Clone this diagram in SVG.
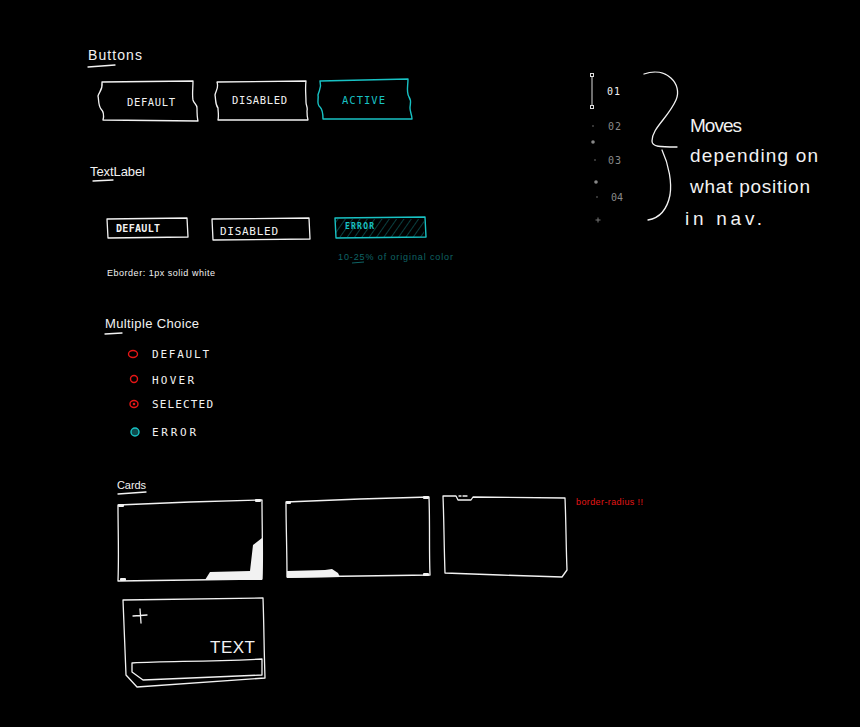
<svg xmlns="http://www.w3.org/2000/svg" width="860" height="727" viewBox="0 0 860 727">
<defs>
<style>
.ln{fill:none;stroke:#f2f2f2;stroke-width:1.3;stroke-linejoin:round;stroke-linecap:round}
.cy{fill:none;stroke:#18c2c4;stroke-width:1.4;stroke-linejoin:round;stroke-linecap:round}
.hd{font-family:"Liberation Sans",Arial,sans-serif;fill:#f2f2f2}
.bl{font-family:"DejaVu Sans Mono","Liberation Mono",monospace;fill:#f2f2f2}
.red{fill:none;stroke:#e51616;stroke-width:1.4}
.wf{fill:#f2f2f2;stroke:none}
</style>
<pattern id="hatch" width="6" height="6" patternUnits="userSpaceOnUse" patternTransform="rotate(35)">
<line x1="0" y1="0" x2="0" y2="6" stroke="#0e5f61" stroke-width="1.3"/>
</pattern>
</defs>
<rect width="860" height="727" fill="#000"/>

<g id="buttons">
<text class="hd" x="88" y="60" font-size="14" textLength="54">Buttons</text>
<path class="ln" d="M88,67 L115,65"/>
<g id="btn-default">
<path class="ln" d="M102,82 L193,81 C193,88 192,95 193,100 C194,104 197,104 197,108 C197,113 197,117 198,121 L103,120 C104,116 104,112 101,109 C98,105 99,100 98,96 C99,92 103,90 102,82 Z"/>
<text class="bl" x="127" y="106" font-size="10.5" textLength="48">DEFAULT</text>
</g>
<g id="btn-disabled">
<path class="ln" d="M217,82 L306,81 C305,88 306,95 306,102 C306,106 308,107 307,111 C307,114 307,117 308,120 L218,120 C219,115 218,112 218,108 C215,104 216,100 215,95 C216,90 219,88 217,82 Z"/>
<text class="bl" x="232" y="104" font-size="10.5" textLength="55">DISABLED</text>
</g>
<g id="btn-active">
<path class="cy" d="M320,81 L408,79 C408,86 406,92 409,97 C412,101 410,104 410,108 C410,112 412,115 412,119 L323,119 C323,115 323,110 320,107 C316,104 319,99 318,95 C319,90 322,88 320,81 Z"/>
<text class="bl" x="342" y="104" font-size="10.5" style="fill:#18c2c4" textLength="43">ACTIVE</text>
</g>
</g>

<g id="textlabel">
<text class="hd" x="90" y="176" font-size="13" textLength="55">TextLabel</text>
<path class="ln" d="M93,181 L113,180"/>
<g id="tl-default">
<path class="ln" d="M107,219 L187,218 L188,237 L108,238 Z"/>
<text class="bl" x="116" y="232" font-size="10" font-weight="bold" textLength="44">DEFAULT</text>
</g>
<g id="tl-disabled">
<path class="ln" d="M212,219 L309,218 L310,239 L213,240 Z"/>
<text class="bl" x="220" y="235" font-size="11" textLength="58">DISABLED</text>
</g>
<g id="tl-error">
<rect x="336" y="219" width="88" height="18" fill="url(#hatch)"/>
<path class="cy" d="M335,218 L425,217 L426,237 L336,238 Z"/>
<text class="bl" x="345" y="229" font-size="8" font-weight="bold" style="fill:#18c2c4" textLength="29">ERROR</text>
</g>
<text class="hd" x="338" y="260" font-size="9" style="fill:#0f6466" textLength="115">10-25% of original color</text>
<path d="M352,263 L364,262" stroke="#0f6466" stroke-width="1" fill="none"/>
<text class="hd" x="107" y="276" font-size="9" textLength="108">Eborder: 1px solid white</text>
</g>

<g id="multiple-choice">
<text class="hd" x="105" y="328" font-size="13" textLength="94">Multiple Choice</text>
<path class="ln" d="M105,334 L122,333"/>
<g id="mc-default">
<ellipse class="red" cx="133" cy="354" rx="4.5" ry="3.5"/>
<text class="bl" x="152" y="358" font-size="11" textLength="57">DEFAULT</text>
</g>
<g id="mc-hover">
<ellipse class="red" cx="134" cy="379" rx="3.5" ry="3.5"/>
<text class="bl" x="152" y="384" font-size="11" textLength="42">HOVER</text>
</g>
<g id="mc-selected">
<ellipse class="red" cx="134" cy="404" rx="4" ry="3.5"/>
<circle cx="134" cy="404" r="1.3" fill="#e51616"/>
<text class="bl" x="152" y="408" font-size="11" textLength="61">SELECTED</text>
</g>
<g id="mc-error">
<circle cx="135" cy="432" r="4" fill="#0e4a4c" stroke="#18c2c4" stroke-width="1.4"/>
<text class="bl" x="152" y="436" font-size="11" textLength="44">ERROR</text>
</g>
</g>

<g id="nav">
<rect x="590.5" y="73.5" width="3" height="3" fill="none" stroke="#ddd" stroke-width="1"/>
<rect x="590.5" y="105.5" width="3" height="3" fill="none" stroke="#ddd" stroke-width="1"/>
<line x1="592" y1="77" x2="592" y2="105" stroke="#ddd" stroke-width="1"/>
<text class="bl" x="607" y="95" font-size="10" textLength="13">01</text>
<circle cx="593" cy="126" r="0.8" fill="#777"/>
<text class="bl" x="608" y="130" font-size="10" style="fill:#8a8a8a" textLength="13">02</text>
<circle cx="593" cy="142" r="1.8" fill="#888"/>
<circle cx="595" cy="160" r="0.8" fill="#777"/>
<text class="bl" x="608" y="164" font-size="10" style="fill:#8a8a8a" textLength="13">03</text>
<circle cx="596" cy="182" r="1.8" fill="#888"/>
<circle cx="597" cy="197" r="0.8" fill="#777"/>
<text class="bl" x="611" y="201" font-size="10" style="fill:#8a8a8a" textLength="12">04</text>
<path d="M595.5,220 L600.5,220 M598,217.5 L598,222.5" stroke="#777" stroke-width="1"/>
<path class="ln" d="M644,74 C666,66 683,84 676,100 C668,118 652,128 652,141 C652,147 660,147 677,147 M662,150 C669,165 672,183 670,195 C667,210 660,218 648,220"/>
<text class="hd" x="690" y="132" font-size="19" textLength="52">Moves</text>
<text class="hd" x="690" y="162" font-size="19" textLength="128">depending on</text>
<text class="hd" x="690" y="193" font-size="19" textLength="120">what position</text>
<text class="hd" x="685" y="225" font-size="19" textLength="77">in nav.</text>
</g>

<g id="cards">
<text class="hd" x="117" y="489" font-size="11" textLength="29">Cards</text>
<path class="ln" d="M118,494 L146,492"/>
<g id="card-1">
<path class="ln" d="M118,505 L190,502 L262,500 C262,525 263,555 262,579 L190,580 L118,581 C119,555 118,530 118,505 Z"/>
<rect class="wf" x="118" y="504" width="6" height="3" rx="1"/>
<rect class="wf" x="255" y="499" width="6" height="3" rx="1"/>
<rect class="wf" x="120" y="578" width="6" height="3" rx="1"/>
<path class="wf" d="M205,580 L210,572 L250,571 L253,545 L262,538 L262,580 Z"/>
</g>
<g id="card-2">
<path class="ln" d="M286,502 L360,499 L429,497 C430,525 429,550 430,575 L360,576 L287,577 C287,550 286,525 286,502 Z"/>
<rect class="wf" x="286" y="501" width="5" height="3" rx="1"/>
<rect class="wf" x="423" y="496" width="6" height="3" rx="1"/>
<rect class="wf" x="423" y="573" width="6" height="3" rx="1"/>
<path class="wf" d="M287,571 L325,570 L332,569 L338,573 L340,577 L287,578 Z"/>
</g>
<g id="card-3">
<path class="ln" d="M443,496 L456,496 L458,500 L471,500 L473,497 L565,498 C566,520 566,545 567,570 L562,577 L500,575 L445,573 C444,545 444,520 443,496 Z"/>
<path class="ln" d="M459,496 L461,496 M463,496 L467,496" stroke-width="1"/>
<text class="hd" x="576" y="505" font-size="9" style="fill:#e51616" textLength="67">border-radius !!</text>
</g>
<g id="card-4">
<path class="ln" d="M123,600 L263,598 C264,625 264,650 265,678 L137,687 L126,675 C125,650 124,625 123,600 Z"/>
<path class="ln" d="M132,663 C170,661 200,662 262,659 L262,675 L143,680 L132,672 Z"/>
<path class="ln" d="M133,616 L147,615 M140,609 L141,623"/>
<text class="hd" x="210" y="653" font-size="17" textLength="45">TEXT</text>
</g>
</g>
</svg>
